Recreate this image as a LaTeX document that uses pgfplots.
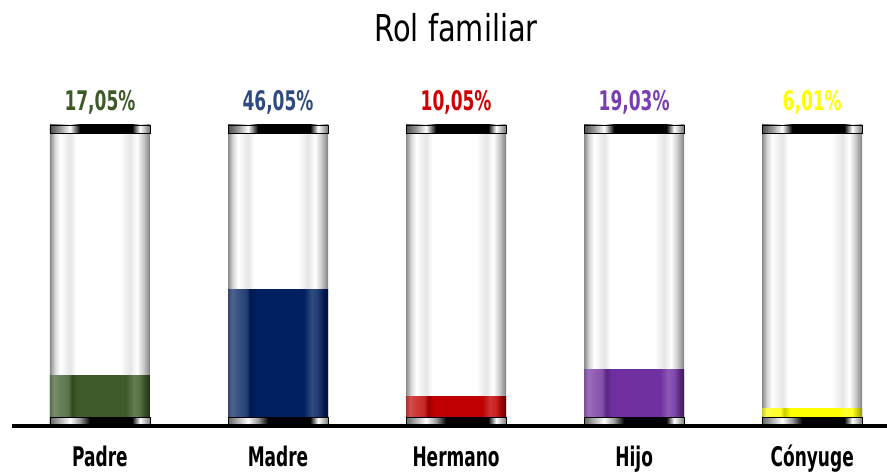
\documentclass[border=0pt]{standalone}
\usepackage{pgfplots}
\pgfplotsset{compat=1.18}
\usepackage{fontspec}
\setmainfont{DejaVu Sans}
\newfontfamily\titlefont[FakeStretch=0.78]{DejaVu Sans}
\newfontfamily\labfont[FakeStretch=0.63]{DejaVu Sans}

\definecolor{cPadre}{HTML}{3E5C29}
\definecolor{cMadre}{HTML}{002060}
\definecolor{cHermano}{HTML}{C00000}
\definecolor{cHijo}{HTML}{7030A0}
\definecolor{cConyuge}{HTML}{FFFF00}
\definecolor{lPadre}{HTML}{3B5A27}
\definecolor{lMadre}{HTML}{2E4A7E}
\definecolor{lHermano}{HTML}{D00000}
\definecolor{lHijo}{HTML}{7A3DB0}
\definecolor{lConyuge}{HTML}{FFFF00}

\pgfdeclarehorizontalshading{glass}{100bp}{color(0bp)=(black!45); color(25bp)=(black!45); color(27.5bp)=(black!15); color(30bp)=(white); color(35bp)=(black!10); color(38bp)=(white); color(60bp)=(white); color(65bp)=(black!10); color(68.5bp)=(white); color(71.5bp)=(black!20); color(75bp)=(black!50); color(100bp)=(black!50)}
\pgfdeclarehorizontalshading{topcapshade}{100bp}{color(0bp)=(black!70); color(25bp)=(black!70); color(30bp)=(black!40); color(35bp)=(white); color(40bp)=(black); color(66bp)=(black); color(70bp)=(white); color(75bp)=(black!55); color(100bp)=(black!55)}
\pgfdeclarehorizontalshading{botcapshade}{100bp}{color(0bp)=(black!60); color(25bp)=(black!60); color(30bp)=(black!30); color(35bp)=(white); color(40bp)=(black!40); color(45bp)=(black); color(66bp)=(black); color(70bp)=(white); color(75bp)=(black!50); color(100bp)=(black!50)}
\newcommand\liquidshade[2]{%
\pgfdeclarehorizontalshading{#1}{100bp}{color(0bp)=(#2!60!gray); color(25bp)=(#2!60!gray); color(27bp)=(#2!70!white); color(30bp)=(#2!78!white); color(34bp)=(#2!85!white); color(36bp)=(#2!80!black); color(39bp)=(#2); color(63bp)=(#2); color(67bp)=(#2!80!white); color(70bp)=(#2!88!white); color(73bp)=(#2!75!black); color(75bp)=(#2!55!black); color(100bp)=(#2!55!black)}}
\liquidshade{liqPadre}{cPadre}
\liquidshade{liqMadre}{cMadre}
\liquidshade{liqHermano}{cHermano}
\liquidshade{liqHijo}{cHijo}
\liquidshade{liqConyuge}{cConyuge}

\pgfdeclareplotmark{topcap}{\shade[shading=topcapshade] (-50pt,-4pt) rectangle (50pt,4pt);}
\pgfdeclareplotmark{botcap}{\shade[shading=botcapshade] (-50pt,-3.5pt) rectangle (50pt,3.5pt);}

\newcommand\pctfont{\labfont\bfseries\fontsize{27}{30}\selectfont}

\begin{document}
\begin{tikzpicture}
\useasboundingbox (0,0) rectangle (887pt,474pt);
\begin{axis}[
  at={(12pt,48pt)}, anchor=south west,
  scale only axis, width=875pt, height=426pt,
  xmin=-0.494, xmax=4.42, ymin=0, ymax=143.4,
  axis x line*=bottom, axis y line=none,
  x axis line style={line width=4pt,-},
  xtick={0,1,2,3,4},
  xticklabels={Padre,Madre,Hermano,Hijo,C\'onyuge},
  major tick length=0pt,
  xticklabel style={anchor=base, yshift=-41pt, font=\labfont\bfseries\fontsize{27}{30}\selectfont},
  clip=false, axis on top,
  bar plot/.style={ybar, bar width=100pt, bar shift=0pt, draw=none, shade},
  lab/.style={only marks, mark=none, nodes near coords, point meta=explicit symbolic,
    every node near coord/.append style={anchor=center, font=\pctfont, text=#1}},
]
% glass tubes (one plot per tube so each gets its own shading)
\addplot[bar plot, shading=glass] coordinates {(0,100)};
\addplot[bar plot, shading=glass] coordinates {(1,100)};
\addplot[bar plot, shading=glass] coordinates {(2,100)};
\addplot[bar plot, shading=glass] coordinates {(3,100)};
\addplot[bar plot, shading=glass] coordinates {(4,100)};
% liquid levels
\addplot[bar plot, shading=liqPadre] coordinates {(0,17.05)};
\addplot[bar plot, shading=liqMadre] coordinates {(1,46.05)};
\addplot[bar plot, shading=liqHermano] coordinates {(2,10.05)};
\addplot[bar plot, shading=liqHijo] coordinates {(3,19.03)};
\addplot[bar plot, shading=liqConyuge] coordinates {(4,6.01)};
% caps
\addplot[only marks, mark=topcap] coordinates {(0,100) (1,100) (2,100) (3,100) (4,100)};
\addplot[only marks, mark=botcap] coordinates {(0,1.85) (1,1.85) (2,1.85) (3,1.85) (4,1.85)};
% value labels
\addplot[lab=lPadre] coordinates {(0,108.8) [17,05\%]};
\addplot[lab=lMadre] coordinates {(1,108.8) [46,05\%]};
\addplot[lab=lHermano] coordinates {(2,108.8) [10,05\%]};
\addplot[lab=lHijo] coordinates {(3,108.8) [19,03\%]};
\addplot[lab=lConyuge] coordinates {(4,108.8) [6,01\%]};
\node[font=\titlefont\fontsize{37}{40}\selectfont] at (axis cs:2,134) {Rol familiar};
\end{axis}
\end{tikzpicture}
\end{document}
